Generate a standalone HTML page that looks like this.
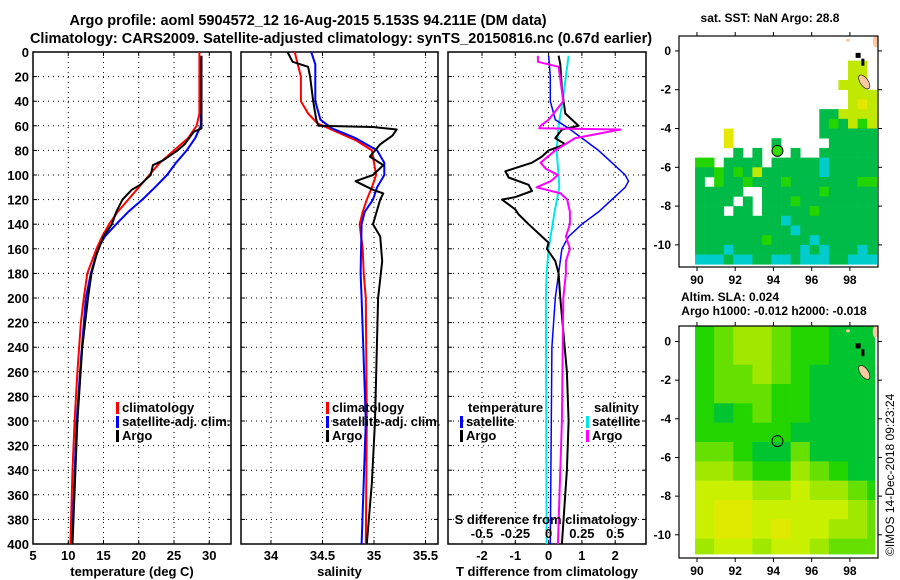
<!DOCTYPE html>
<html><head><meta charset="utf-8">
<style>
html,body{margin:0;padding:0;background:#fff;}
svg{display:block;font-family:"Liberation Sans",Arial,sans-serif;font-weight:bold;font-size:13px;}
</style></head>
<body>
<svg id="fig" width="900" height="580" viewBox="0 0 900 580" xmlns="http://www.w3.org/2000/svg">
<text x="308" y="25" text-anchor="middle" font-size="14.5">Argo profile: aoml 5904572_12 16-Aug-2015 5.153S 94.211E (DM data)</text>
<text x="341" y="43" text-anchor="middle" font-size="14.5">Climatology: CARS2009. Satellite-adjusted climatology: synTS_20150816.nc (0.67d earlier)</text>
<text x="770" y="22" text-anchor="middle" font-size="12">sat. SST: NaN Argo: 28.8</text>
<text x="730" y="301" text-anchor="middle" font-size="12">Altim. SLA: 0.024</text>
<text x="774" y="315" text-anchor="middle" font-size="12">Argo h1000: -0.012 h2000: -0.018</text>
<text transform="translate(894,556) rotate(-90)" font-weight="normal" font-size="12">©IMOS 14-Dec-2018 09:23:24</text>
<g id="g"></g>
</svg>
<script>
// ---------- profile data ----------
const tempClimDepth=[0,50,60,70,80,90,100,110,120,130,140,150,160,180,200,220,260,300,340,400];
const tempClim=[28.6,28.6,28.2,27,25,23,21.5,20,18.5,17,15.8,14.8,14,12.7,12.2,11.8,11.3,10.9,10.6,10.3];
const tempArgoDepth=[3,62,65,75,80,88,92,100,108,112,120,130,140,150,165,180,200,240,300,400];
const tempArgo=[28.9,28.9,27.8,26.5,25.5,23.5,22,21.7,20.2,19,17.7,16.8,16.2,15,14,13.3,12.8,12,11.3,10.6];
const tempSatDepth=[5,60,70,80,90,100,110,120,130,140,150,160,180,200,250,300,400];
const tempSat=[28.8,28.8,28,26.8,25.3,24,22.3,20.5,18.5,16.8,15.2,14.2,13.2,12.5,11.8,11.2,10.5];

const salClimDepth=[0,20,40,50,58,65,72,80,90,100,110,120,130,140,160,180,200,300,400];
const salClim=[34.23,34.29,34.29,34.36,34.45,34.64,34.83,34.98,35.0,35.02,34.98,34.93,34.89,34.86,34.89,34.9,34.92,34.93,34.92];
const salArgoDepth=[0,8,12,20,40,55,60,61,63,68,75,85,92,100,105,112,115,120,140,150,170,200,300,350,400];
const salArgo=[34.16,34.21,34.36,34.38,34.41,34.44,34.46,34.99,35.22,35.18,35.06,34.96,35.09,34.99,34.82,34.99,35.09,35.06,34.99,35.06,35.08,35.04,35.01,34.98,34.93];
const salSatDepth=[0,10,40,55,62,70,80,90,100,110,120,130,140,180,200,300,400];
const salSat=[34.39,34.43,34.43,34.48,34.59,34.82,35.03,35.1,35.1,35.03,34.99,34.91,34.88,34.87,34.88,34.92,34.88];

const dTArgoDepth=[3,10,30,50,60,63,70,75,80,85,90,97,102,108,113,118,120,128,132,140,150,155,160,170,180,200,260,300,340,400];
const dTArgo=[0.3,0.35,0.4,0.5,0.9,0.4,0.2,0.5,0.0,-0.2,-0.5,-1.3,-1.2,-0.6,-0.5,-1.0,-1.4,-1.0,-0.9,-0.6,-0.2,0,-0.05,0.2,0.3,0.35,0.55,0.6,0.55,0.4];
const dTSatDepth=[3,20,40,55,62,70,80,90,100,105,110,120,130,140,150,160,180,200,240,300,400];
const dTSat=[0,0.05,0.05,0.2,0.6,1.0,1.5,1.9,2.3,2.4,2.3,1.9,1.5,1.0,0.6,0.4,0.3,0.2,0.1,0.08,0.05];
const dSArgoDepth=[3,8,12,40,55,60,62,63,70,80,90,95,100,105,110,115,120,130,140,150,160,170,180,200,300,400];
const dSArgo=[-0.08,-0.08,0.075,0.11,0,-0.06,-0.07,0.54,0.2,0.05,-0.06,-0.02,0.07,0.015,-0.09,0.09,0.14,0.16,0.16,0.13,0.16,0.13,0.13,0.11,0.1,0.07];
const dSSatDepth=[3,40,60,80,100,110,130,160,180,200,400];
const dSSat=[0.15,0.105,0.075,0.06,0.075,0.08,0.045,0,-0.015,-0.02,-0.015];

const depthTicks=[0,20,40,60,80,100,120,140,160,180,200,220,240,260,280,300,320,340,360,380,400];
const tempTicks=[5,10,15,20,25,30];
const salTicks=[34,34.5,35,35.5];
const dTTicks=[-2,-1,0,1,2];
const dSTickLabels=["-0.5","-0.25","0","0.25","0.5"];
const dSTicks=[-0.5,-0.25,0,0.25,0.5];

// ---------- map data ----------
const sstRows=[
"...................",
"...................",
"................yy.",
"................yy.",
"...............yyy.",
"................yyy",
"................yYy",
".............ggyyyy",
".............glgyly",
"...Y.........gggggg",
"...Y....g.....ggggg",
"....g.g...g..gggggg",
"ll.gggg.gggggcggggg",
"gglglgyggggggcggggg",
"g.lgglggglgggggggll",
"ggggg..gggggglggggg",
"gggg.g.ggglgggggggg",
"ggg.gg.ggggglgggggg",
"gggggggggcggggggggg",
"ggggggggggcgggggggg",
"ggggggglggggcgggggg",
"gggcgggggggcgcgggcg",
"cccgccggccgcccggccc"];
const slaRows=[
"1233211000","1233211000","1223210000","1222110000","1012110000",
"1111100000","2210020000","3321132100","4443343321","4554444432",
"4554544332","3443443222","3333232222"];
const lonTicks=[90,92,94,96,98];
const latTicks=[0,-2,-4,-6,-8,-10];
const argoLon=94.21, argoLat=-5.153;

// ---------- drawing ----------
const NS="http://www.w3.org/2000/svg";
const G=document.getElementById('g');
function mk(tag,attrs,parent){const e=document.createElementNS(NS,tag);for(const k in attrs)e.setAttribute(k,attrs[k]);(parent||G).appendChild(e);return e;}
const top0=52,bot0=544;
const yD=d=>top0+(bot0-top0)*d/400;
const panels=[
 {l:33,r:231,min:5,max:5+198/7.05,ticks:tempTicks,name:'temperature-panel',xlabel:'temperature (deg C)'},
 {l:241,r:438,min:34-30/103,max:34-30/103+197/103,ticks:salTicks,name:'salinity-panel',xlabel:'salinity'},
 {l:448,r:646,min:-2-34/33.3,max:-2-34/33.3+198/33.3,ticks:dTTicks,name:'difference-panel',xlabel:'T difference from climatology'}];
panels.forEach(p=>{p.x=v=>p.l+(p.r-p.l)*(v-p.min)/(p.max-p.min);});

panels.forEach((p,pi)=>{
  const grp=mk('g',{});
  
  
  depthTicks.forEach(d=>{
    if(d>0&&d<400){const ln=mk('line',{x1:p.l,x2:p.r,y1:yD(d),y2:yD(d),stroke:'#000','stroke-width':1,'stroke-dasharray':'1,4'},grp);
      }
    mk('line',{x1:p.l,x2:p.l+4,y1:yD(d),y2:yD(d),stroke:'#000'},grp);
    mk('line',{x1:p.r-4,x2:p.r,y1:yD(d),y2:yD(d),stroke:'#000'},grp);
    if(pi===0){const t=mk('text',{x:29,y:yD(d)+5,'text-anchor':'end'},grp);t.textContent=d;
      }
  });
  p.ticks.forEach(v=>{
    const X=p.x(v);
    const ln=mk('line',{x1:X,x2:X,y1:top0,y2:bot0,stroke:'#000','stroke-dasharray':'1,4'},grp);
    
    mk('line',{x1:X,x2:X,y1:bot0,y2:bot0-4,stroke:'#000'},grp);
    mk('line',{x1:X,x2:X,y1:top0,y2:top0+4,stroke:'#000'},grp);
    const t=mk('text',{x:X,y:560,'text-anchor':'middle'},grp);t.textContent=v;
    
  });
  const fr=mk('rect',{x:p.l,y:top0,width:p.r-p.l,height:bot0-top0,fill:'none',stroke:'#000','stroke-width':1.5},grp);
  
  const xl=mk('text',{x:(p.l+p.r)/2,y:576,'text-anchor':'middle'},grp);xl.textContent=p.xlabel;
  
});

function line(p,depths,vals,color,w,name,scale){
  const pts=depths.map((d,i)=>p.x(vals[i]*(scale||1)).toFixed(1)+','+yD(d).toFixed(1)).join(' ');
  const e=mk('polyline',{points:pts,fill:'none',stroke:color,'stroke-width':w,'stroke-linejoin':'round'});
  
  
}
const P0=panels[0],P1=panels[1],P2=panels[2];
line(P0,tempSatDepth,tempSat,'#0000ff',2,'temp-satellite-line');
line(P0,tempClimDepth,tempClim,'#ff0000',2,'temp-climatology-line');
line(P0,tempArgoDepth,tempArgo,'#000',2,'temp-argo-line');
line(P1,salClimDepth,salClim,'#ff0000',2,'sal-climatology-line');
line(P1,salSatDepth,salSat,'#0000ff',2,'sal-satellite-line');
line(P1,salArgoDepth,salArgo,'#000',2,'sal-argo-line');
line(P2,dSSatDepth,dSSat,'#00e8e8',2,'dsal-satellite-line',4);
line(P2,dTSatDepth,dTSat,'#0000ff',1.5,'dtemp-satellite-line');
line(P2,dTArgoDepth,dTArgo,'#000',2,'dtemp-argo-line');
line(P2,dSArgoDepth,dSArgo,'#ff00ff',2,'dsal-argo-line',4);

// S difference secondary labels
const sl=mk('text',{x:546,y:524,'text-anchor':'middle'});sl.textContent='S difference from climatology';

dSTicks.forEach((v,i)=>{const t=mk('text',{x:P2.x(v*4),y:538,'text-anchor':'middle'});t.textContent=dSTickLabels[i];
  });

// legends
function legend(x,y,items,name){
  const grp=mk('g',{});
  items.forEach((it,i)=>{
    const yy=y+i*14;
    if(it[1]){mk('rect',{x:x,y:yy-10,width:3,height:12,fill:it[1]},grp);}
    const t=mk('text',{x:x+(it[1]?6:0),y:yy},grp);t.textContent=it[0];
    
  });
}
legend(116,412,[['climatology','#ff0000'],['satellite-adj. clim.','#0000ff'],['Argo','#000']],'temperature-legend');
legend(326,412,[['climatology','#ff0000'],['satellite-adj. clim.','#0000ff'],['Argo','#000']],'salinity-legend');
legend(468,412,[['temperature',null]],'dtemp-legend-title');
legend(460,426,[['satellite','#0000ff'],['Argo','#000']],'dtemp-legend');
legend(594,412,[['salinity',null]],'dsal-legend-title');
legend(586,426,[['satellite','#00e8e8'],['Argo','#ff00ff']],'dsal-legend');

// maps
const mapL=679,mapR=878;
const lonMin=89.06,lonMax=99.47;
const mx=lon=>mapL+(mapR-mapL)*(lon-lonMin)/(lonMax-lonMin);
function mapFrame(top,bot,latTop,latBot,name){
  const my=lat=>top+(bot-top)*(latTop-lat)/(latTop-latBot);
  const grp=mk('g',{});
  return {my,grp,top,bot};
}
const sstColors={g:'#00bb48',l:'#22d400',c:'#00cccc',y:'#c0e800',Y:'#e4e800'};
const M1=mapFrame(36,267,0.77,-11.14,'sst-map');
sstRows.forEach((row,r)=>{
  for(let c=0;c<row.length;c++){const ch=row[c];if(!sstColors[ch])continue;
    const lon=89.9+0.5*c,lat=0.5-0.5*r;
    const e=mk('rect',{x:mx(lon),y:M1.my(lat),width:mx(lon+0.5)-mx(lon)+0.3,height:M1.my(lat-0.5)-M1.my(lat)+0.3,fill:sstColors[ch]},M1.grp);
    }
});
const slaColors=['#00c430','#22d400','#66e000','#a0e800','#c8f000','#e0ea00'];
const M2=mapFrame(326,558,0.8,-11.2,'sla-map');
slaRows.forEach((row,r)=>{
  for(let c=0;c<row.length;c++){
    const lon=89.9+c,lat=0.8-r; const lon2=Math.min(lon+1,99.3);
    const e=mk('rect',{x:mx(lon),y:M2.my(lat),width:mx(lon2)-mx(lon)+0.3,height:M2.my(Math.max(lat-1,-11))-M2.my(lat)+0.3,fill:slaColors[+row[c]]},M2.grp);
    }
});
[M1,M2].forEach((M,mi)=>{
  const l1=mk('ellipse',{cx:mx(98.75),cy:M.my(-1.6),rx:4,ry:8,fill:'#f8c8a0',stroke:'#000','stroke-width':0.6,transform:`rotate(-35 ${mx(98.75)} ${M.my(-1.6)})`},M.grp);
  
  mk('ellipse',{cx:mx(99.35),cy:M.my(0.5),rx:3,ry:6,fill:'#f8c8a0'},M.grp);
  mk('ellipse',{cx:mx(97.9),cy:M.my(0.55),rx:2,ry:1.5,fill:'#f8c8a0'},M.grp);
  mk('rect',{x:mx(98.3),y:M.my(-0.1),width:5,height:5,fill:'#000'},M.grp);
  mk('rect',{x:mx(98.6),y:M.my(-0.4),width:3,height:7,fill:'#000'},M.grp);
  const fr=mk('rect',{x:mapL,y:M.top,width:mapR-mapL,height:M.bot-M.top,fill:'none',stroke:'#000','stroke-width':1.2},M.grp);
  
  const pt=mk('circle',{cx:mx(argoLon),cy:M.my(argoLat),r:5.5,fill:mi===0?'#33dd00':'none',stroke:'#000','stroke-width':1},M.grp);
  
  lonTicks.forEach(v=>{
    mk('line',{x1:mx(v),x2:mx(v),y1:M.top,y2:M.top-4,stroke:'#000'},M.grp);
    mk('line',{x1:mx(v),x2:mx(v),y1:M.bot,y2:M.bot+4,stroke:'#000'},M.grp);
    const t=mk('text',{x:mx(v),y:M.bot+17,'text-anchor':'middle','font-size':12},M.grp);t.textContent=v;
    
  });
  latTicks.forEach(v=>{
    mk('line',{x1:mapL,x2:mapL-4,y1:M.my(v),y2:M.my(v),stroke:'#000'},M.grp);
    mk('line',{x1:mapR,x2:mapR+4,y1:M.my(v),y2:M.my(v),stroke:'#000'},M.grp);
    const t=mk('text',{x:671,y:M.my(v)+4,'text-anchor':'end','font-size':12},M.grp);t.textContent=v;
    
  });
});
</script>
</body></html>
